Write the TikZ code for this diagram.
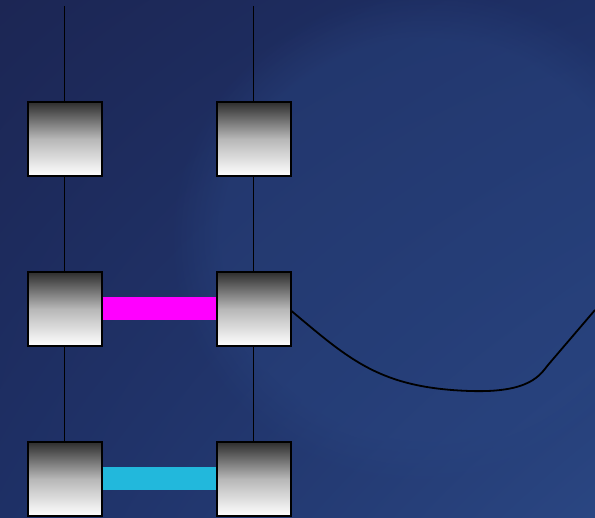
\documentclass[tikz,border=0pt]{standalone}
\usetikzlibrary{shadings,fadings}
\begin{document}
\begin{tikzpicture}[x=1pt,y=-1pt,
  blk/.style={draw=black, line width=2pt, minimum width=74pt, minimum height=74pt, inner sep=0pt,
    top color=black!82, bottom color=white, middle color=black!28},
  wire/.style={draw=black, line width=1.8pt},
  bar/.style={line width=23pt}]
\definecolor{bgA}{RGB}{28,38,84}
\definecolor{bgB}{RGB}{30,48,102}
\definecolor{bgC}{RGB}{42,70,130}
\definecolor{barcyan}{RGB}{34,184,220}
\definecolor{barmag}{RGB}{255,0,255}
\useasboundingbox (0,0) rectangle (595,518);
\clip (0,0) rectangle (595,518);
\shade[upper left=bgA, upper right=bgB, lower left=bgB, lower right=bgC] (0,0) rectangle (595,518);
\fill[bgC, opacity=0.4, path fading=circle with fuzzy edge 20 percent] (430,240) ellipse (260 and 250);
% boxes
\node[blk] (a1) at (64.5,139) {};
\node[blk] (b1) at (253.5,139) {};
\node[blk] (a2) at (64.5,309) {};
\node[blk] (b2) at (253.5,309) {};
\node[blk] (a3) at (64.5,479) {};
\node[blk] (b3) at (253.5,479) {};
\coordinate (ta) at (64.5,6);
\coordinate (tb) at (253.5,6);
\coordinate (ce) at (595,310);
% wires
\draw[wire] (ta) -- (a1.north);
\draw[wire] (a1.south) -- (a2.north);
\draw[wire] (a2.south) -- (a3.north);
\draw[wire] (tb) -- (b1.north);
\draw[wire] (b1.south) -- (b2.north);
\draw[wire] (b2.south) -- (b3.north);
% bars
\draw[bar, barmag] (a2.east) -- (b2.west);
\draw[bar, barcyan] (a3.east) -- (b3.west);
% curve
\draw[black, line width=1.8pt] ([yshift=-2pt]b2.east) .. controls (350,360) and (380,388) .. (470,391)
  .. controls (530,393) and (540,375) .. (548,365) -- (ce);
\end{tikzpicture}
\end{document}
